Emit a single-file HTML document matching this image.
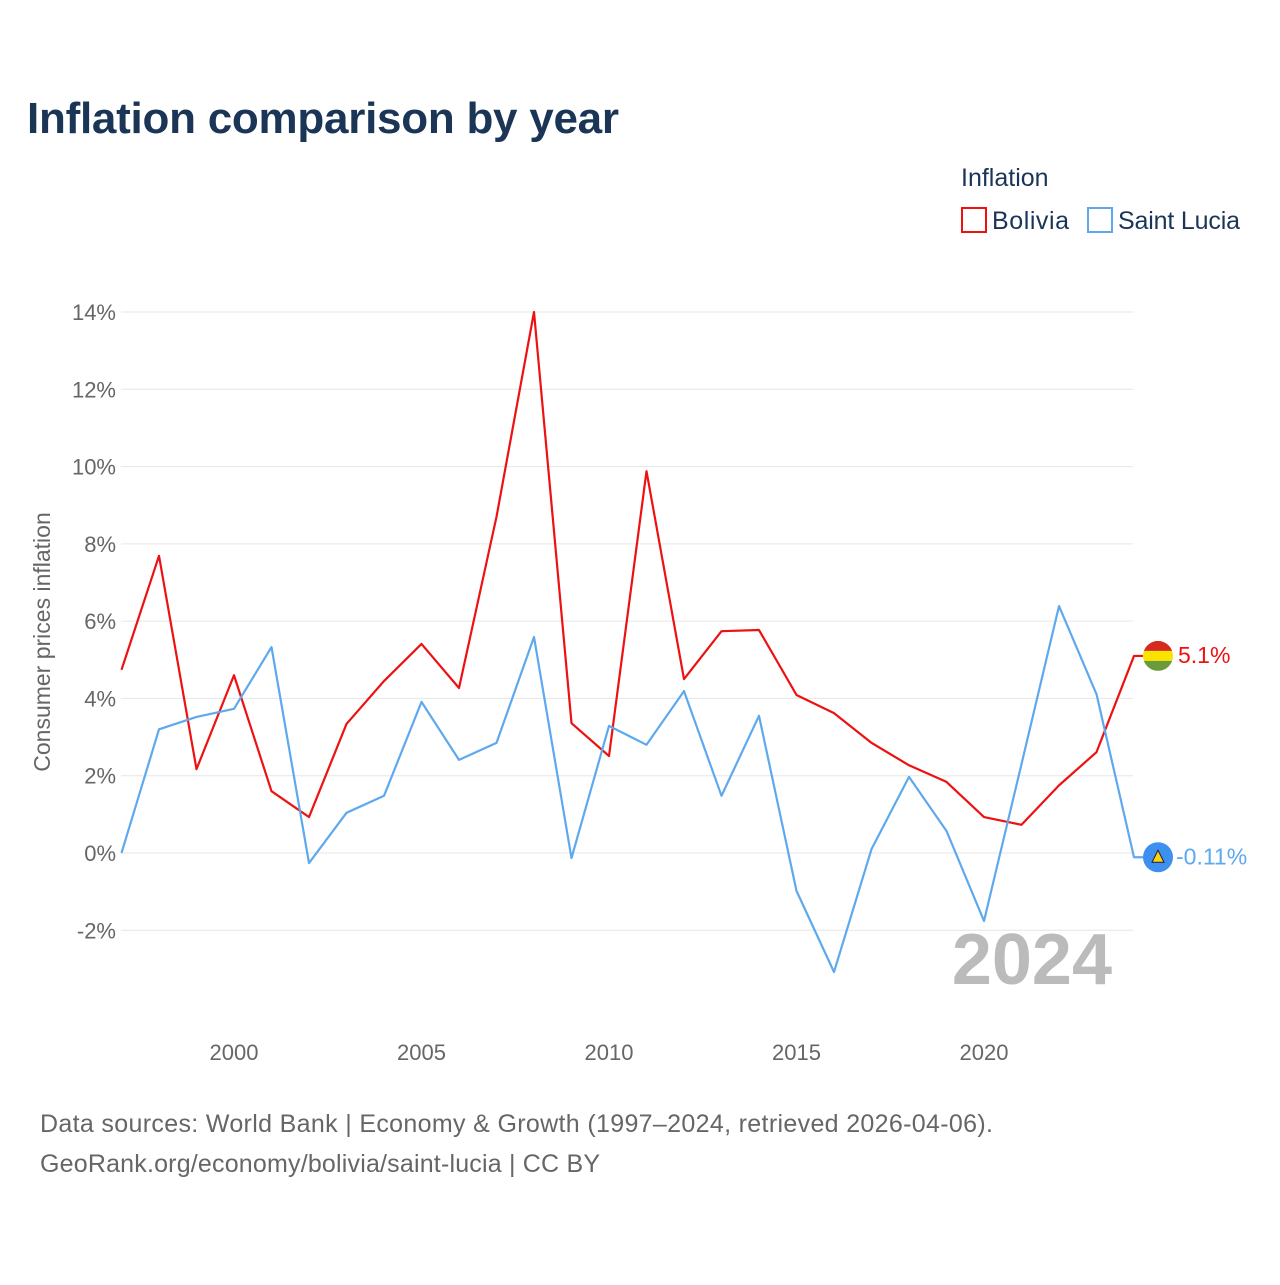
<!DOCTYPE html>
<html><head><meta charset="utf-8"><style>
body{margin:0;background:#fff;font-family:"Liberation Sans",sans-serif}
svg text{font-family:"Liberation Sans",sans-serif}
</style></head><body>
<svg width="1280" height="1280" viewBox="0 0 1280 1280">
<text x="27" y="133" font-size="44" font-weight="bold" fill="#1b3556" textLength="592">Inflation comparison by year</text>
<text x="961" y="186" font-size="25" fill="#1b3556">Inflation</text>
<g><rect x="962" y="208" width="24" height="24" fill="none" stroke="#ee1111" stroke-width="2"/><text x="992" y="229" font-size="25" fill="#1b3556" textLength="77">Bolivia</text></g>
<g><rect x="1088" y="208" width="24" height="24" fill="none" stroke="#5ea9ee" stroke-width="2"/><text x="1118" y="229" font-size="25" fill="#1b3556" textLength="122">Saint Lucia</text></g>
<g id="grid"></g><g id="yt"></g><g id="xt"></g>
<text transform="translate(50,642) rotate(-90)" text-anchor="middle" font-size="23" fill="#666">Consumer prices inflation</text>
<text x="1112" y="984" text-anchor="end" font-size="72" font-weight="bold" fill="#bbb">2024</text>
<g id="series"></g>
<text x="40" y="1132" font-size="25" fill="#666" textLength="953">Data sources: World Bank | Economy &amp; Growth (1997–2024, retrieved 2026-04-06).</text>
<text x="40" y="1172" font-size="25" fill="#666" textLength="560">GeoRank.org/economy/bolivia/saint-lucia | CC BY</text>
</svg>
<script>
const years=[1997,1998,1999,2000,2001,2002,2003,2004,2005,2006,2007,2008,2009,2010,2011,2012,2013,2014,2015,2016,2017,2018,2019,2020,2021,2022,2023,2024];
const bolivia=[4.74,7.69,2.17,4.6,1.6,0.93,3.34,4.45,5.41,4.27,8.7,14.0,3.36,2.51,9.88,4.5,5.74,5.77,4.09,3.62,2.85,2.27,1.84,0.93,0.73,1.75,2.61,5.1];
const stlucia=[0,3.2,3.52,3.73,5.33,-0.26,1.04,1.48,3.91,2.41,2.85,5.59,-0.13,3.29,2.8,4.19,1.48,3.55,-0.98,-3.08,0.1,1.97,0.57,-1.76,2.3,6.39,4.11,-0.11];
const yTicks=[-2,0,2,4,6,8,10,12,14];
const xTicks=[2000,2005,2010,2015,2020];
const NS="http://www.w3.org/2000/svg";
const x=v=>121.5+(v-1997)*37.5;
const y=v=>853-v*(853-312)/14;
function mk(t,a,p){const e=document.createElementNS(NS,t);for(const k in a)e.setAttribute(k,a[k]);p.appendChild(e);return e;}
const grid=document.getElementById('grid'),yt=document.getElementById('yt'),xt=document.getElementById('xt'),ser=document.getElementById('series');
yTicks.forEach(v=>{
 const l=mk('line',{x1:121,x2:1133,y1:y(v),y2:y(v),stroke:'#e6e6e6','stroke-width':1},grid);
 
 
 const t=mk('text',{x:116,y:y(v)+8,'text-anchor':'end','font-size':22,fill:'#666'},yt);
 t.textContent=v+'%';
 
 
});
xTicks.forEach(v=>{
 const t=mk('text',{x:x(v),y:1060,'text-anchor':'middle','font-size':22,fill:'#666'},xt);
 t.textContent=v;
 
 
});
function line(vals,col,name){
 const pts=vals.map((v,i)=>x(years[i])+','+y(v));
 pts.push('1143,'+y(vals[vals.length-1]));
 const p=mk('polyline',{points:pts.join(' '),fill:'none',stroke:col,'stroke-width':2.2,'stroke-linejoin':'round'},ser);
 
 
}
line(bolivia,'#ee1111','bolivia-line');
line(stlucia,'#5ea9ee','saint-lucia-line');
const lb=bolivia[bolivia.length-1],ls=stlucia[stlucia.length-1];
const g1=mk('g',{},ser);


const cy1=y(lb);
mk('clipPath',{id:'cb'},g1).appendChild(document.createElementNS(NS,'circle'));
const cc=g1.querySelector('circle');cc.setAttribute('cx',1158);cc.setAttribute('cy',cy1);cc.setAttribute('r',15);
mk('rect',{x:1143,y:cy1-15,width:30,height:10,fill:'#d52b1e','clip-path':'url(#cb)'},g1);
mk('rect',{x:1143,y:cy1-5,width:30,height:10,fill:'#f9e300','clip-path':'url(#cb)'},g1);
mk('rect',{x:1143,y:cy1+5,width:30,height:10,fill:'#6a9a3b','clip-path':'url(#cb)'},g1);
const t1=mk('text',{x:1178,y:y(lb)+7,'font-size':23,fill:'#ee1111'},g1);t1.textContent=lb.toFixed(1)+'%';
const g2=mk('g',{},ser);


const cy2=y(ls);
mk('circle',{cx:1158,cy:cy2,r:15,fill:'#3d8ff0'},g2);
mk('polygon',{points:`1158,${cy2-7} 1164,${cy2+5} 1152,${cy2+5}`,fill:'#fcd116',stroke:'#222','stroke-width':1},g2);
const t2=mk('text',{x:1176,y:y(ls)+7,'font-size':23,fill:'#5ea9ee'},g2);t2.textContent=ls+'%';
</script>
</body></html>
